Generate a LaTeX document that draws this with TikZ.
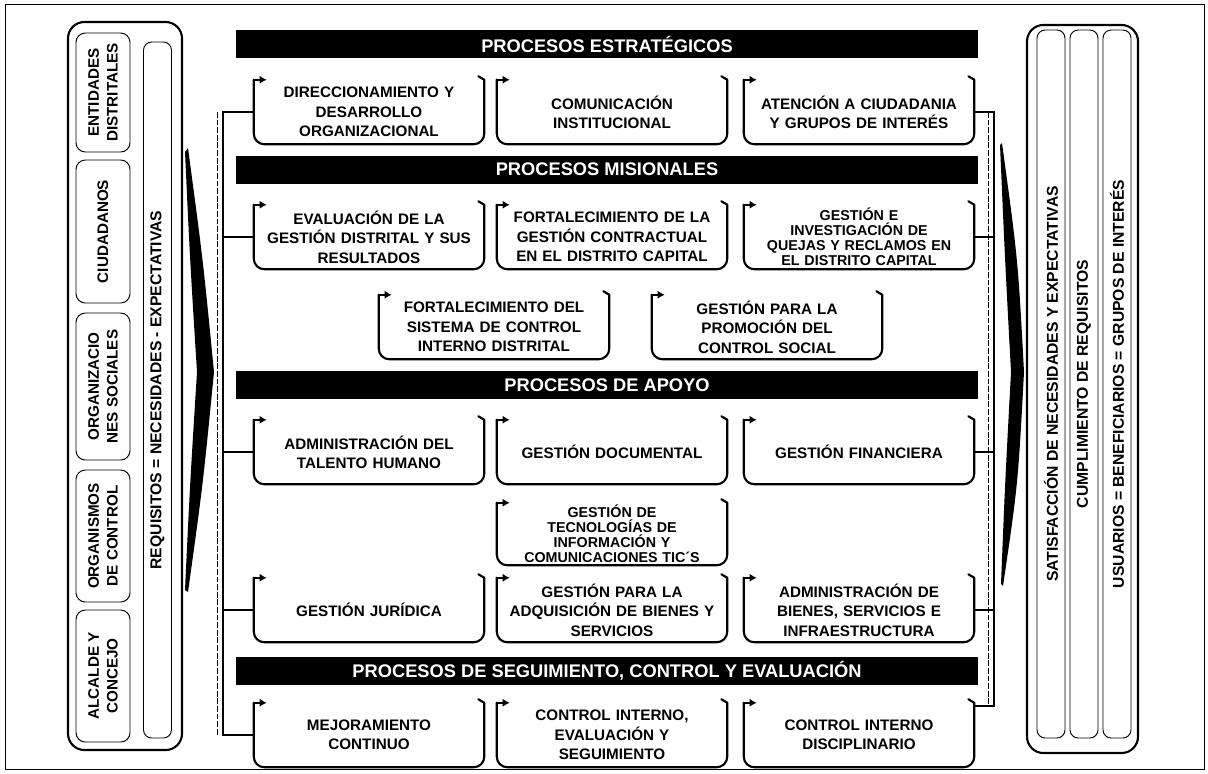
\documentclass[tikz,border=0pt]{standalone}
\usepackage{fontspec}
\setmainfont{Liberation Sans}
\usetikzlibrary{arrows.meta}

\begin{document}
\begin{tikzpicture}[x=0.03cm, y=-0.03cm,
    barra/.style={fill=black, minimum width=22.26cm, minimum height=0.84cm, inner sep=0pt, text=white, font=\fontsize{15.6}{18}\selectfont\bfseries},
    proceso/.style={minimum width=6.9cm, minimum height=1.92cm, inner sep=0pt, text width=6.7cm, align=center, font=\fontsize{13}{16.5}\selectfont\bfseries},
    apretado/.style={font=\fontsize{12.2}{12.8}\selectfont\bfseries},
    marco/.style={line width=1.8pt, line cap=round, line join=round},
    bus/.style={line width=1.6pt},
    sombra/.style={line width=0.5pt, dash pattern=on 5pt off 1.5pt},
    grupo/.style={draw, line width=1.8pt, rounded corners=14pt, inner sep=0pt},
    actor/.style={draw, line width=0.8pt, rounded corners=8pt, rotate=90, minimum height=1.62cm, inner sep=0pt, align=center, font=\fontsize{13}{16}\selectfont\bfseries},
    franja/.style={draw, line width=0.8pt, rounded corners=7pt, rotate=90, minimum height=0.84cm, inner sep=0pt, font=\fontsize{13.4}{16}\selectfont\bfseries}]

    % fondo y marco
    \fill[white] (0,0) rectangle (1208,773);
    \useasboundingbox (0,0) rectangle (1208,773);
    \draw[line width=0.8pt] (5,4) rectangle (1204,769);

    % partes interesadas (entrada)
    \node[grupo, minimum width=3.42cm, minimum height=21.84cm] (izq) at (125,386) {};
    \node[actor, minimum width=3.57cm] (ent) at (103,92.5) {ENTIDADES\\DISTRITALES};
    \node[actor, minimum width=4.29cm] (ciu) at (103,231.5) {CIUDADANOS};
    \node[actor, minimum width=4.41cm] (org) at (103,386.5) {ORGANIZACIO\\NES SOCIALES};
    \node[actor, minimum width=3.96cm] (orgc) at (103,536) {ORGANISMOS\\DE CONTROL};
    \node[actor, minimum width=3.96cm] (alc) at (103,676) {ALCALDE Y\\CONCEJO};
    \node[franja, minimum width=20.88cm] (req) at (157.5,390) {REQUISITOS = NECESIDADES - EXPECTATIVAS};

    % flecha de entrada
    \fill (188,148) .. controls (203,260) .. (214,372) .. controls (203,484) .. (188,592)
        -- (185,590) .. controls (190,484) .. (197,372) .. controls (190,260) .. (185,152) -- cycle;

    % barras de procesos
    \node[barra] (est) at (607,44) {PROCESOS ESTRATÉGICOS};
    \node[barra] (mis) at (607,169.5) {PROCESOS MISIONALES};
    \node[barra] (apo) at (607,385) {PROCESOS DE APOYO};
    \node[barra] (seg) at (607,670.5) {PROCESOS DE SEGUIMIENTO, CONTROL Y EVALUACIÓN};

    % procesos estrategicos
    \node[proceso] (a1) at (369,112) {DIRECCIONAMIENTO Y\\DESARROLLO\\ORGANIZACIONAL};
    \node[proceso] (b1) at (612,112) {COMUNICACIÓN\\INSTITUCIONAL};
    \node[proceso] (c1) at (859,112) {ATENCIÓN A CIUDADANIA\\Y GRUPOS DE INTERÉS};

    % procesos misionales
    \node[proceso] (a2) at (369,237) {EVALUACIÓN DE LA\\GESTIÓN DISTRITAL Y SUS\\RESULTADOS};
    \node[proceso] (b2) at (612,237) {FORTALECIMIENTO DE LA\\GESTIÓN CONTRACTUAL\\EN EL DISTRITO CAPITAL};
    \node[proceso, apretado] (c2) at (859,237) {GESTIÓN E\\INVESTIGACIÓN DE\\QUEJAS Y RECLAMOS EN\\EL DISTRITO CAPITAL};
    \node[proceso] (m1) at (494,327) {FORTALECIMIENTO DEL\\SISTEMA DE CONTROL\\INTERNO DISTRITAL};
    \node[proceso] (m2) at (767,327) {GESTIÓN PARA LA\\PROMOCIÓN DEL\\CONTROL SOCIAL};

    % procesos de apoyo
    \node[proceso] (a4) at (369,452) {ADMINISTRACIÓN DEL\\TALENTO HUMANO};
    \node[proceso] (b4) at (612,452) {GESTIÓN DOCUMENTAL};
    \node[proceso] (c4) at (859,452) {GESTIÓN FINANCIERA};
    \node[proceso, apretado, minimum height=1.86cm] (b5) at (612,534) {GESTIÓN DE\\TECNOLOGÍAS DE\\INFORMACIÓN Y\\COMUNICACIONES TIC´S};
    \node[proceso] (a6) at (369,610) {GESTIÓN JURÍDICA};
    \node[proceso] (b6) at (612,610) {GESTIÓN PARA LA\\ADQUISICIÓN DE BIENES Y\\SERVICIOS};
    \node[proceso] (c6) at (859,610) {ADMINISTRACIÓN DE\\BIENES, SERVICIOS E\\INFRAESTRUCTURA};

    % procesos de seguimiento
    \node[proceso] (a7) at (369,735) {MEJORAMIENTO\\CONTINUO};
    \node[proceso] (b7) at (612,735) {CONTROL INTERNO,\\EVALUACIÓN Y\\SEGUIMIENTO};
    \node[proceso] (c7) at (859,735) {CONTROL INTERNO\\DISCIPLINARIO};

    % marcos de los procesos
    \foreach \n in {a1,b1,c1,a2,b2,c2,m1,m2,a4,b4,c4,b5,a6,b6,c6,a7,b7,c7} {
        \draw[marco, rounded corners=9pt] (\n.north west) -- (\n.south west) -- (\n.south east) -- (\n.north east);
        \draw[marco, -{Latex[length=6pt,width=7pt]}] (\n.north west) -- ++(11pt,0);
        \draw[marco] (\n.north east) -- ++(-5pt,3pt);
    }

    % conectores
    \coordinate (bizq) at (223,0);
    \coordinate (bder) at (994,0);
    \draw[bus] (a1.west) -- (a1.west -| bizq) -- (a7.west -| bizq) -- (a7.west);
    \foreach \n in {a2,a4,a6}
        \draw[bus] (\n.west) -- (\n.west -| bizq);
    \draw[bus] (c1.east) -- (c1.east -| bder) -- ([yshift=-3pt]c7.north east -| bder) -- ([yshift=-3pt]c7.north east);
    \foreach \n in {c2,c4,c6}
        \draw[bus] (\n.east) -- (\n.east -| bder);
    \draw[sombra] ([xshift=-5pt]a1.west -| bizq) -- ([xshift=-5pt]a7.west -| bizq);
    \draw[sombra] ([xshift=-5pt]c1.east -| bder) -- ([xshift=-5pt,yshift=-3pt]c7.north east -| bder);

    % flecha de salida
    \fill (1002,143) .. controls (1018,260) .. (1024,372) .. controls (1018,484) .. (1003,586)
        -- (1001,584) .. controls (1005,484) .. (1011,372) .. controls (1005,260) .. (1000,145) -- cycle;

    % resultados (salida)
    \node[grupo, minimum width=3.33cm, minimum height=21.84cm] (der) at (1082.5,389) {};
    \node[franja, minimum width=21.24cm] (sat) at (1051,384) {SATISFACCIÓN DE NECESIDADES Y EXPECTATIVAS};
    \node[franja, minimum width=21.24cm] (cum) at (1084,384) {CUMPLIMIENTO DE REQUISITOS};
    \node[franja, minimum width=21.24cm] (usu) at (1117,384) {USUARIOS = BENEFICIARIOS = GRUPOS DE INTERÉS};
\end{tikzpicture}
\end{document}
